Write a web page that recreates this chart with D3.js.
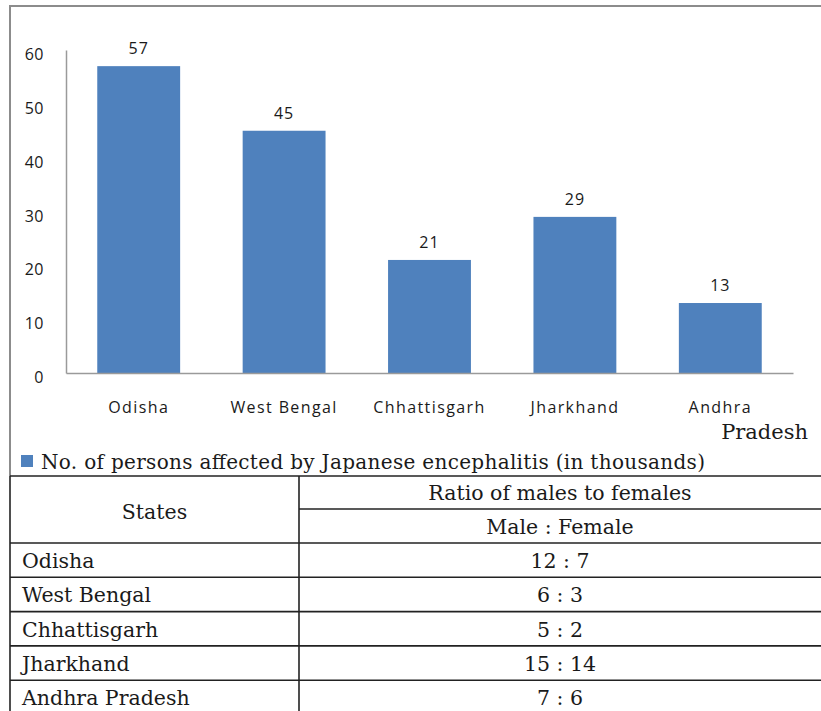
<!DOCTYPE html>
<html>
<head>
<meta charset="utf-8">
<script src="https://cdn.jsdelivr.net/npm/d3@7"></script>
<style>
  body { margin: 0; background: #fff; }
  svg { display: block; }
</style>
</head>
<body>
<div id="chart"></div>
<script>
// data
const states = ["Odisha", "West Bengal", "Chhattisgarh", "Jharkhand", "Andhra Pradesh"];
const affected = [57, 45, 21, 29, 13]; // thousands
const ratios = ["12 : 7", "6 : 3", "5 : 2", "15 : 14", "7 : 6"];
const yTicks = [0, 10, 20, 30, 40, 50, 60];
const legendText = "No. of persons affected by Japanese encephalitis (in thousands)";
const tableHead = ["States", "Ratio of males to females", "Male : Female"];

const width = 821, height = 711;
const sans = "'Open Sans', 'Noto Sans', sans-serif";
const serif = "'DejaVu Serif', serif";
const barColor = "#4f81bd";

const svg = d3.select("#chart").append("svg")
    .attr("width", width)
    .attr("height", height);

// chart frame (top and left edge visible)
svg.append("path")
    .attr("d", `M10,476 V6 H${width}`)
    .attr("fill", "none")
    .attr("stroke", "#8c8c8c")
    .attr("stroke-width", 2);

const x = d3.scaleBand()
    .domain(states)
    .range([66, 793])
    .paddingInner(0.43)
    .paddingOuter(0.215);

const y = d3.scaleLinear()
    .domain([0, 60])
    .range([373, 50]);

// y axis
const yAxis = svg.append("g")
    .attr("transform", "translate(66,0)")
    .call(d3.axisLeft(y).tickValues(yTicks).tickSize(0).tickPadding(22));
yAxis.select(".domain").attr("stroke", "#9a9a9a").attr("stroke-width", 1.5);
yAxis.selectAll("text")
    .attr("dy", "0.6em")
    .style("font-family", sans)
    .style("font-size", "16px")
    .style("letter-spacing", "0.5px")
    .style("fill", "#1a1a1a");

// bars
const rows = states.map((s, i) => ({ state: s, value: affected[i] }));
svg.selectAll(".bar")
    .data(rows)
    .enter()
    .append("rect")
    .attr("class", "bar")
    .attr("x", d => x(d.state))
    .attr("y", d => y(d.value))
    .attr("width", x.bandwidth())
    .attr("height", d => y(0) - y(d.value))
    .attr("fill", barColor);

// value labels
svg.selectAll(".val")
    .data(rows)
    .enter()
    .append("text")
    .attr("class", "val")
    .attr("x", d => x(d.state) + x.bandwidth() / 2)
    .attr("y", d => y(d.value) - 12)
    .attr("text-anchor", "middle")
    .style("font-family", sans)
    .style("font-size", "16px")
    .style("letter-spacing", "1px")
    .style("fill", "#1a1a1a")
    .text(d => d.value);

// x axis
const xAxis = svg.append("g")
    .attr("transform", `translate(0,${y(0)})`)
    .call(d3.axisBottom(x).tickSize(0).tickPadding(29)
        .tickFormat(d => d === "Andhra Pradesh" ? "Andhra" : d));
xAxis.select(".domain").attr("stroke", "#9a9a9a").attr("stroke-width", 1.5);
xAxis.selectAll("text")
    .style("font-family", sans)
    .style("font-size", "16px")
    .style("letter-spacing", "1.4px")
    .style("fill", "#1a1a1a");

// second line of last label wraps in a different font
svg.append("text")
    .attr("x", 808)
    .attr("y", 439)
    .attr("text-anchor", "end")
    .style("font-family", serif)
    .style("font-size", "21px")
    .style("fill", "#1a1a1a")
    .text("Pradesh");

// legend
svg.append("rect")
    .attr("x", 21).attr("y", 455)
    .attr("width", 12).attr("height", 12)
    .attr("fill", barColor);
svg.append("text")
    .attr("x", 41)
    .attr("y", 469)
    .attr("textLength", 664)
    .attr("lengthAdjust", "spacing")
    .style("font-family", serif)
    .style("font-size", "20px")
    .style("fill", "#1a1a1a")
    .text(legendText);

// table
const colX = [10, 299, width];
const headTop = 476, headMid = 509, headBot = 543;
const rowY = d3.scaleBand().domain(states).range([headBot, headBot + 5 * 34.3]);
const tbl = svg.append("g")
    .attr("stroke", "#222")
    .attr("stroke-width", 1.6);

[headTop, headBot].concat(states.slice(1).map(s => rowY(s))).forEach(v => {
    tbl.append("line").attr("x1", colX[0]).attr("x2", colX[2]).attr("y1", v).attr("y2", v);
});
tbl.append("line").attr("x1", colX[1]).attr("x2", colX[2]).attr("y1", headMid).attr("y2", headMid);
[colX[0], colX[1]].forEach(v => {
    tbl.append("line").attr("x1", v).attr("x2", v).attr("y1", headTop).attr("y2", height);
});

const cellText = (tx, ty, txt, anchor) => svg.append("text")
    .attr("x", tx).attr("y", ty)
    .attr("text-anchor", anchor)
    .style("font-family", serif)
    .style("font-size", "20.5px")
    .style("fill", "#1a1a1a")
    .text(txt);

const midR = (colX[1] + colX[2]) / 2;
cellText((colX[0] + colX[1]) / 2, 519, tableHead[0], "middle");
cellText(midR, 500, tableHead[1], "middle");
cellText(midR, 534, tableHead[2], "middle");

states.forEach((s, i) => {
    cellText(22, rowY(s) + 25, s, "start");
    cellText(midR, rowY(s) + 25, ratios[i], "middle");
});
</script>
</body>
</html>
